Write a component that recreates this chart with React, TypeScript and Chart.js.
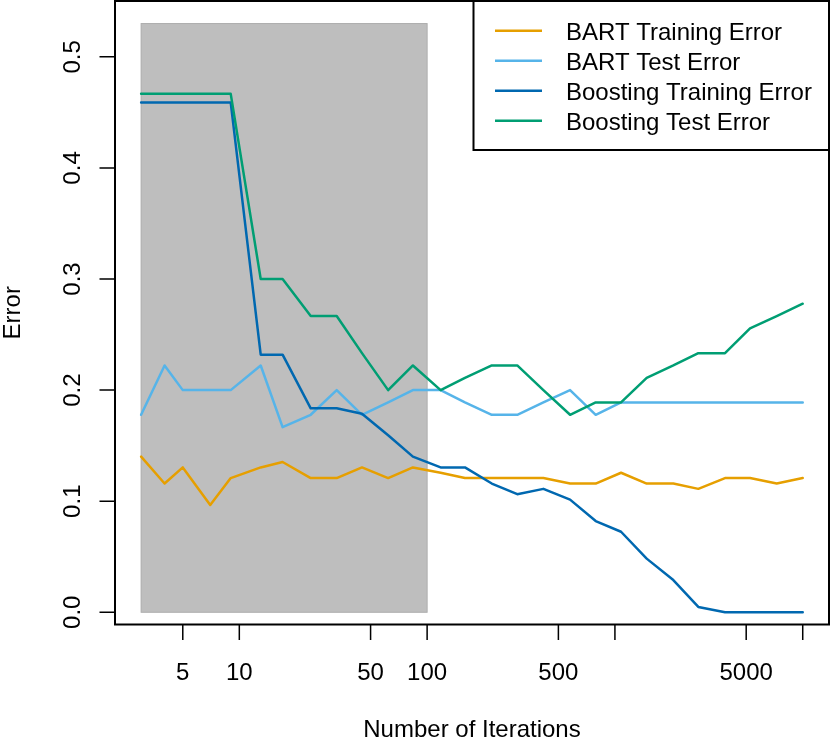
import React, { useEffect, useRef } from 'react';
import { Chart, registerables } from 'chart.js';

Chart.register(...registerables);

// ---- data ----
const iterations = [3, 4, 5, 7, 9, 13, 17, 24, 33, 45, 62, 84, 118, 159, 221, 302, 416, 577, 790, 1078, 1476, 2046, 2780, 3857, 5240, 7271, 10000];

const bartTrainError = [0.1401, 0.1159, 0.1304, 0.0966, 0.1208, 0.1304, 0.1353, 0.1208, 0.1208, 0.1304, 0.1208, 0.1304, 0.1256, 0.1208, 0.1208, 0.1208, 0.1208, 0.1159, 0.1159, 0.1256, 0.1159, 0.1159, 0.1111, 0.1208, 0.1208, 0.1159, 0.1208];

const bartTestError = [0.1778, 0.2222, 0.2, 0.2, 0.2, 0.2222, 0.1667, 0.1778, 0.2, 0.1778, 0.1889, 0.2, 0.2, 0.1889, 0.1778, 0.1778, 0.1889, 0.2, 0.1778, 0.1889, 0.1889, 0.1889, 0.1889, 0.1889, 0.1889, 0.1889, 0.1889];

const boostTrainError = [0.4589, 0.4589, 0.4589, 0.4589, 0.4589, 0.2319, 0.2319, 0.1836, 0.1836, 0.1787, 0.1594, 0.1401, 0.1304, 0.1304, 0.1159, 0.1063, 0.1111, 0.1014, 0.0821, 0.0725, 0.0483, 0.029, 0.0048, 0, 0, 0, 0];

const boostTestError = [0.4667, 0.4667, 0.4667, 0.4667, 0.4667, 0.3, 0.3, 0.2667, 0.2667, 0.2333, 0.2, 0.2222, 0.2, 0.2111, 0.2222, 0.2222, 0.2, 0.1778, 0.1889, 0.1889, 0.2111, 0.2222, 0.2333, 0.2333, 0.2556, 0.2667, 0.2778];

const seriesLabels = ['BART Training Error', 'BART Test Error', 'Boosting Training Error', 'Boosting Test Error'];
const seriesColors = ['#E69F00', '#56B4E9', '#0068B0', '#009E73'];

const xTickValues = [5, 10, 50, 100, 500, 1000, 5000, 10000];
const xTickLabels = ['5', '10', '50', '100', '500', '', '5000', ''];
const yTickValues = [0, 0.1, 0.2, 0.3, 0.4, 0.5];
const yTickLabels = ['0.0', '0.1', '0.2', '0.3', '0.4', '0.5'];

const shadedX = [3, 100];
const shadedY = [0, 0.53];

const xTitle = 'Number of Iterations';
const yTitle = 'Error';

// ---- styling ----
const FONT = '24px "Liberation Sans", Arial, Helvetica, sans-serif';
const LINE_W = 2.5;

const rStylePlugin = {
  id: 'rStyle',
  beforeDatasetsDraw(chart: any) {
    const { ctx, scales } = chart;
    const x = scales.x;
    const y = scales.y;
    const x0 = x.getPixelForValue(shadedX[0]);
    const x1 = x.getPixelForValue(shadedX[1]);
    const y0 = y.getPixelForValue(shadedY[0]);
    const y1 = y.getPixelForValue(shadedY[1]);
    ctx.save();
    ctx.fillStyle = '#BEBEBE';
    ctx.fillRect(x0, y1, x1 - x0, y0 - y1);
    ctx.strokeStyle = '#ADADAD';
    ctx.lineWidth = 1;
    ctx.strokeRect(x0, y1, x1 - x0, y0 - y1);
    ctx.restore();
  },
  afterDraw(chart: any) {
    const { ctx, chartArea: ca, scales } = chart;
    const x = scales.x;
    const y = scales.y;
    ctx.save();
    // plot box
    ctx.strokeStyle = '#000';
    ctx.lineWidth = 2;
    ctx.strokeRect(ca.left, ca.top, ca.right - ca.left, ca.bottom - ca.top);

    // ticks
    ctx.lineWidth = 1.5;
    ctx.beginPath();
    xTickValues.forEach((v) => {
      const px = x.getPixelForValue(v);
      ctx.moveTo(px, ca.bottom);
      ctx.lineTo(px, ca.bottom + 15.5);
    });
    yTickValues.forEach((v) => {
      const py = y.getPixelForValue(v);
      ctx.moveTo(ca.left, py);
      ctx.lineTo(ca.left - 15.5, py);
    });
    ctx.stroke();

    // tick labels
    ctx.font = FONT;
    ctx.fillStyle = '#000';
    ctx.textAlign = 'center';
    ctx.textBaseline = 'alphabetic';
    xTickValues.forEach((v, i) => {
      if (xTickLabels[i]) ctx.fillText(xTickLabels[i], x.getPixelForValue(v), ca.bottom + 55);
    });
    ctx.fillText(xTitle, (ca.left + ca.right) / 2, ca.bottom + 112.5);

    yTickValues.forEach((v, i) => {
      ctx.save();
      ctx.translate(ca.left - 35, y.getPixelForValue(v));
      ctx.rotate(-Math.PI / 2);
      ctx.fillText(yTickLabels[i], 0, 0);
      ctx.restore();
    });
    ctx.save();
    ctx.translate(19.5, (ca.top + ca.bottom) / 2);
    ctx.rotate(-Math.PI / 2);
    ctx.fillText(yTitle, 0, 0);
    ctx.restore();

    // legend
    const lgLeft = 473.5;
    const lgBottom = 150;
    ctx.fillStyle = '#fff';
    ctx.fillRect(lgLeft, ca.top, ca.right - lgLeft, lgBottom - ca.top);
    ctx.strokeStyle = '#000';
    ctx.lineWidth = 2;
    ctx.strokeRect(lgLeft, ca.top, ca.right - lgLeft, lgBottom - ca.top);
    seriesLabels.forEach((label, i) => {
      const rowY = 30.7 + 30 * i;
      ctx.strokeStyle = seriesColors[i];
      ctx.lineWidth = LINE_W;
      ctx.beginPath();
      ctx.moveTo(495, rowY);
      ctx.lineTo(542, rowY);
      ctx.stroke();
      ctx.fillStyle = '#000';
      ctx.textAlign = 'left';
      ctx.fillText(label, 566, rowY + 8.8);
    });
    ctx.restore();
  },
};

export default function App() {
  const canvasRef = useRef<HTMLCanvasElement | null>(null);

  useEffect(() => {
    const canvas = canvasRef.current;
    if (!canvas) return;
    const seriesValues = [bartTrainError, bartTestError, boostTrainError, boostTestError];
    const chart = new Chart(canvas, {
      type: 'line',
      data: {
        datasets: seriesValues.map((vals, s) => ({
          label: seriesLabels[s],
          data: iterations.map((it, i) => ({ x: it, y: vals[i] })),
          borderColor: seriesColors[s],
          backgroundColor: seriesColors[s],
          borderWidth: LINE_W,
          pointRadius: 0,
          tension: 0,
          fill: false,
          borderJoinStyle: 'round',
          borderCapStyle: 'round',
          order: 4 - s,
        })),
      },
      options: {
        animation: false,
        responsive: false,
        maintainAspectRatio: false,
        layout: { padding: { left: 115, right: 1, top: 1, bottom: 115.5 } },
        plugins: {
          legend: { display: false },
          tooltip: { enabled: false },
        },
        scales: {
          x: { type: 'logarithmic', min: 2.178, max: 13800, display: false },
          y: { type: 'linear', min: -0.011, max: 0.5503, display: false },
        },
      },
      plugins: [rStylePlugin],
    } as any);
    return () => chart.destroy();
  }, []);

  return (
    <div style={{ position: 'absolute', left: 0, top: 0, width: 830, height: 740, background: '#fff' }}>
      <canvas ref={canvasRef} width={830} height={740} style={{ display: 'block', width: 830, height: 740 }} />
    </div>
  );
}
